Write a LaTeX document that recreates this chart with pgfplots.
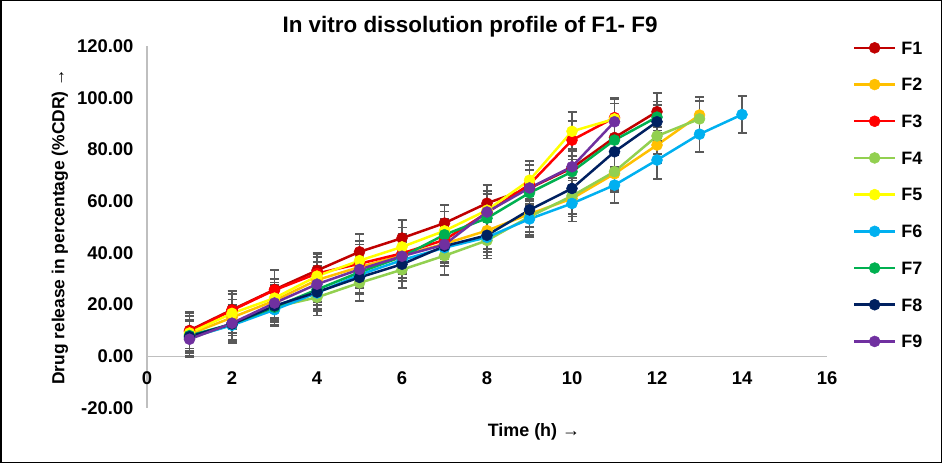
\documentclass[border=0pt]{standalone}
\usepackage{fontspec}
\setmainfont{Liberation Sans}
\usepackage{pgfplots}
\pgfplotsset{compat=1.18}

\definecolor{cF1}{HTML}{C00000}
\definecolor{cF2}{HTML}{FFC000}
\definecolor{cF3}{HTML}{FF0000}
\definecolor{cF4}{HTML}{92D050}
\definecolor{cF5}{HTML}{FFFF00}
\definecolor{cF6}{HTML}{00B0F0}
\definecolor{cF7}{HTML}{00B050}
\definecolor{cF8}{HTML}{002060}
\definecolor{cF9}{HTML}{7030A0}
\definecolor{errgray}{HTML}{595959}
\definecolor{axgray}{HTML}{BFBFBF}

\pgfplotsset{
  ser/.style={
    color=#1, line width=2.5bp, mark=*, mark size=5.5bp,
    mark options={solid, fill=#1, draw=#1, line width=0.5bp},
    error bars/.cd, y dir=both, y explicit,
    error bar style={color=errgray, line width=1.6bp},
    error mark options={rotate=90, mark size=4.5bp, line width=1.6bp, color=errgray},
  }
}

\begin{document}
\begin{tikzpicture}
\draw[line width=1.5bp] (0.75bp,0.75bp) rectangle (941.25bp,462.25bp);
\begin{axis}[
  at={(147bp,55bp)}, anchor=south west,
  scale only axis, width=680bp, height=362bp,
  xmin=0, xmax=16, ymin=-20, ymax=120,
  axis x line=middle, axis y line=left,
  axis line style={-, color=axgray, line width=1.5bp},
  hide obscured x ticks=false, hide obscured y ticks=false,
  xtick={0,2,...,16}, ytick={-20,0,...,120},
  major tick length=0pt,
  /pgf/number format/assume math mode=true,
  tick label style={font=\bfseries\fontsize{18.5}{19}\selectfont},
  xticklabel style={yshift=-12bp},
  yticklabel style={xshift=-10bp, /pgf/number format/.cd, fixed, fixed zerofill, precision=2},
  title={In vitro dissolution profile of F1- F9},
  title style={at={(axis description cs:0.475,1.036)}, anchor=center, font=\bfseries\fontsize{22.5}{24}\selectfont},
  xlabel={Time (h) →},
  xlabel style={at={(axis description cs:0.569,-0.066)}, anchor=center, font=\bfseries\fontsize{18}{19}\selectfont},
  ylabel={Drug release in percentage (\%CDR) →},
  ylabel style={at={(axis description cs:-0.128,0.5)}, anchor=center, rotate=0, font=\bfseries\fontsize{17.5}{18}\selectfont},
  legend cell align=left,
  legend image code/.code={\draw[mark repeat=2, mark phase=2, #1] plot coordinates {(0bp,0bp) (20.5bp,0bp) (41bp,0bp)};},
  legend style={at={(axis description cs:1.0378,1.013)}, anchor=north west, draw=none, fill=none,
    inner sep=0pt, row sep=24bp, column sep=5bp,
    font=\bfseries\fontsize{18}{18}\selectfont,
    nodes={inner sep=0pt, text height=12.7bp, text depth=0bp}},
]

\addplot[ser=cF1] coordinates {
  (1,10.0) +- (0,7) (2,18.0) +- (0,7.5) (3,25.8) +- (0,7.5) (4,33.2) +- (0,7) (5,40.4) +- (0,7)
  (6,45.7) +- (0,7) (7,51.5) +- (0,7) (8,59.2) +- (0,7) (9,65.0) +- (0,7) (10,72.8) +- (0,7)
  (11,84.6) +- (0,7) (12,94.6) +- (0,7.3)
};
\addlegendentry{F1}

\addplot[ser=cF2] coordinates {
  (1,8.5) +- (0,7) (2,15.0) +- (0,7) (3,21.5) +- (0,7) (4,29.5) +- (0,7) (5,34.5) +- (0,7)
  (6,39.0) +- (0,7) (7,43.5) +- (0,7) (8,48.6) +- (0,7) (9,55.0) +- (0,7) (10,61.0) +- (0,7)
  (11,70.6) +- (0,7) (12,81.7) +- (0,7) (13,93.3) +- (0,7)
};
\addlegendentry{F2}

\addplot[ser=cF3] coordinates {
  (1,9.6) +- (0,7.5) (2,17.8) +- (0,7.5) (3,25.6) +- (0,8) (4,32.0) +- (0,7.5) (5,35.8) +- (0,7.5)
  (6,39.8) +- (0,7.5) (7,45.0) +- (0,7.5) (8,55.5) +- (0,7.5) (9,66.5) +- (0,7.5) (10,83.6) +- (0,7.5)
  (11,92.3) +- (0,7.5)
};
\addlegendentry{F3}

\addplot[ser=cF4] coordinates {
  (1,7.0) +- (0,7) (2,12.3) +- (0,7) (3,19.0) +- (0,7) (4,22.8) +- (0,7) (5,28.4) +- (0,7)
  (6,33.5) +- (0,7) (7,38.9) +- (0,7.5) (8,44.8) +- (0,7) (9,54.0) +- (0,7) (10,62.0) +- (0,7)
  (11,71.4) +- (0,7) (12,85.2) +- (0,7) (13,91.8) +- (0,7)
};
\addlegendentry{F4}

\addplot[ser=cF5] coordinates {
  (1,9.0) +- (0,7.5) (2,16.6) +- (0,7.5) (3,22.5) +- (0,7.5) (4,31.0) +- (0,7.5) (5,37.0) +- (0,7.5)
  (6,42.3) +- (0,7.5) (7,48.5) +- (0,7.5) (8,56.5) +- (0,7.5) (9,68.1) +- (0,7.5) (10,87.0) +- (0,7.5)
  (11,91.8) +- (0,7.5)
};
\addlegendentry{F5}

\addplot[ser=cF6] coordinates {
  (1,7.2) +- (0,7) (2,12.0) +- (0,7) (3,18.0) +- (0,6.4) (4,24.5) +- (0,7) (5,31.5) +- (0,7)
  (6,37.2) +- (0,7) (7,42.0) +- (0,7) (8,46.0) +- (0,7) (9,53.1) +- (0,7) (10,59.1) +- (0,7)
  (11,66.2) +- (0,7) (12,75.9) +- (0,7.4) (13,85.9) +- (0,7) (14,93.5) +- (0,7.1)
};
\addlegendentry{F6}

\addplot[ser=cF7] coordinates {
  (1,8.0) +- (0,6) (2,12.5) +- (0,6) (3,19.0) +- (0,6) (4,25.8) +- (0,6) (5,32.5) +- (0,6)
  (6,38.5) +- (0,6) (7,47.0) +- (0,6) (8,53.4) +- (0,6) (9,63.2) +- (0,6) (10,71.4) +- (0,6)
  (11,83.6) +- (0,6) (12,92.5) +- (0,6)
};
\addlegendentry{F7}

\addplot[ser=cF8] coordinates {
  (1,7.6) +- (0,6.5) (2,12.5) +- (0,6.5) (3,19.5) +- (0,6.5) (4,24.8) +- (0,6.5) (5,30.5) +- (0,6.5)
  (6,35.6) +- (0,6.5) (7,42.6) +- (0,6.5) (8,46.8) +- (0,6.5) (9,56.6) +- (0,6.5) (10,64.9) +- (0,6.5)
  (11,79.1) +- (0,6.5) (12,90.7) +- (0,6.5)
};
\addlegendentry{F8}

\addplot[ser=cF9] coordinates {
  (1,6.6) +- (0,7) (2,12.8) +- (0,7) (3,20.6) +- (0,7) (4,27.9) +- (0,7) (5,33.6) +- (0,7)
  (6,38.7) +- (0,7) (7,43.2) +- (0,7) (8,55.8) +- (0,7) (9,65.1) +- (0,7) (10,73.3) +- (0,7)
  (11,90.7) +- (0,7)
};
\addlegendentry{F9}

\end{axis}
\pgfresetboundingbox
\useasboundingbox (0,0) rectangle (942bp,463bp);
\end{tikzpicture}
\end{document}
